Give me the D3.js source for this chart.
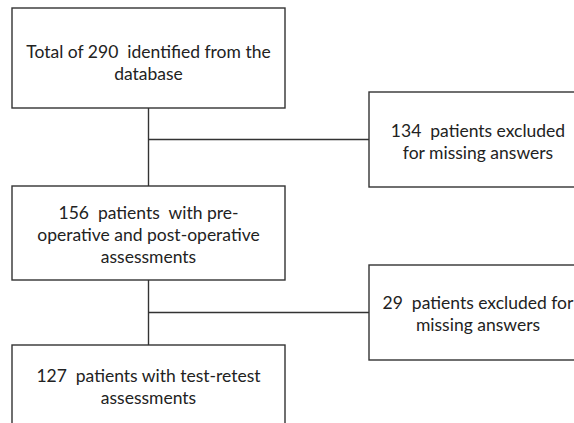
<!DOCTYPE html>
<html>
<head>
<meta charset="utf-8">
<script src="https://cdn.jsdelivr.net/npm/d3@7"></script>
<style>
  html, body { margin: 0; padding: 0; background: #fff; }
  svg { display: block; }
  text { font-family: Lato, "Open Sans", sans-serif; fill: #222; white-space: pre; }
</style>
</head>
<body>
<div id="chart"></div>
<script>
// box texts, one entry per line
const mainSteps = [
  ['Total of 290  identified from the', 'database'],
  ['156  patients  with pre-', 'operative and post-operative', 'assessments'],
  ['127  patients with test-retest', 'assessments']
]
const exclusions = [
  ['134  patients excluded', 'for missing answers'],
  ['29  patients excluded for', 'missing answers']
]

const width = 574, height = 423

// layout (pixels)
const col = { main: { x: 12, w: 273 }, side: { x: 369, w: 218 } }
const mainBoxes = [
  { y: 8, h: 100, ty: 62 },
  { y: 186, h: 94, ty: 234 },
  { y: 345, h: 95, ty: 386 }
]
const sideBoxes = [
  { y: 92, h: 95, ty: 141 },
  { y: 265, h: 95, ty: 313 }
]
const lineH = 22

const svg = d3.select('#chart').append('svg')
  .attr('width', width)
  .attr('height', height)

const stroke = '#333'
const spineX = col.main.x + col.main.w / 2

// connectors
const links = svg.append('g')
  .attr('stroke', stroke)
  .attr('stroke-width', 1.4)
  .attr('fill', 'none')

mainBoxes.slice(0, -1).forEach((b, i) => {
  const next = mainBoxes[i + 1]
  const side = sideBoxes[i]
  links.append('line')
    .attr('x1', spineX).attr('y1', b.y + b.h)
    .attr('x2', spineX).attr('y2', next.y)
  links.append('line')
    .attr('x1', spineX).attr('y1', side.y + side.h / 2)
    .attr('x2', col.side.x).attr('y2', side.y + side.h / 2)
})

function drawBoxes(data, boxes, c) {
  const g = svg.append('g')
    .selectAll('g')
    .data(data.map((lines, i) => ({ lines, ...boxes[i] })))
    .enter().append('g')

  g.append('rect')
    .attr('x', c.x)
    .attr('y', d => d.y)
    .attr('width', c.w)
    .attr('height', d => d.h)
    .attr('fill', '#fff')
    .attr('stroke', stroke)
    .attr('stroke-width', 1.4)

  g.each(function (d) {
    const n = d.lines.length
    d3.select(this).selectAll('text')
      .data(d.lines)
      .enter().append('text')
      .attr('x', c.x + c.w / 2)
      .attr('y', (t, j) => d.ty + (j - (n - 1) / 2) * lineH)
      .attr('text-anchor', 'middle')
      .attr('dominant-baseline', 'central')
      .style('font-size', '17.5px')
      .text(t => t)
  })
}

drawBoxes(mainSteps, mainBoxes, col.main)
drawBoxes(exclusions, sideBoxes, col.side)
</script>
</body>
</html>
